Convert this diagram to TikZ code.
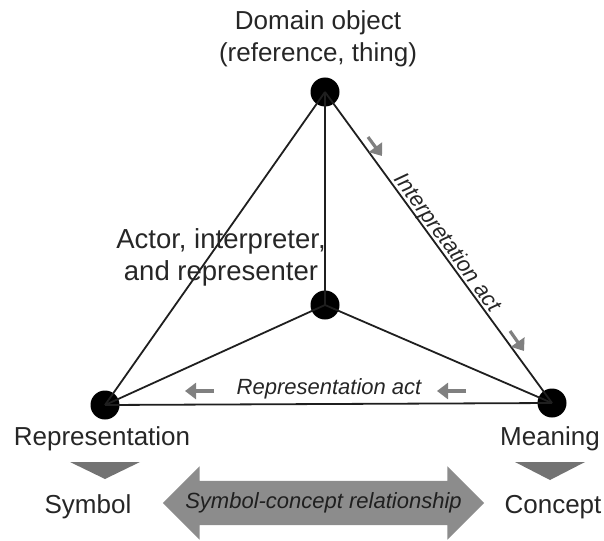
\documentclass[tikz,border=0pt]{standalone}
\usepackage{fontspec}
\setmainfont{Liberation Sans}
\usetikzlibrary{shapes.arrows,arrows.meta}
\begin{document}
\begin{tikzpicture}[x=1pt,y=-1pt,
  vertex/.style={circle,fill=black,minimum size=29pt,inner sep=0pt},
  edge/.style={line width=1.8pt,draw=black!88},
  lbl/.style={font=\fontsize{26}{32}\selectfont,text=black!85,inner sep=0pt,anchor=base},
  biglbl/.style={lbl,font=\fontsize{27.5}{32}\selectfont},
  actlbl/.style={font=\fontsize{22}{26}\selectfont\itshape,text=black!85,inner sep=0pt},
  cue/.style={draw=black!50,line width=3.2pt,-{Triangle[length=11pt,width=16pt]}},
  wedge/.style={fill=black!55},
  relarrow/.style={double arrow,fill=black!45,draw=none,
    double arrow head extend=14.5pt,
    minimum height=317pt,inner xsep=0pt,inner ysep=12pt,
    text height=15pt,text depth=5pt,
    font=\fontsize{22}{26}\selectfont\itshape,text=black!88}
]
\useasboundingbox (0,0) rectangle (604,540);

% the four vertices of the semiotic tetrahedron
\node[vertex] (top)   at (325,92)  {};
\node[vertex] (mid)   at (325,305) {};
\node[vertex] (left)  at (105,405) {};
\node[vertex] (right) at (552,403) {};

% edges
\draw[edge] (top.center) -- (left.center);
\draw[edge] (top.center) -- (right.center);
\draw[edge] (top.center) -- (mid.center);
\draw[edge] (mid.center) -- (left.center);
\draw[edge] (mid.center) -- (right.center);
\draw[edge] (left.center) -- (right.center);

% vertex labels
\node[lbl] (dom1) at (318,30)  {Domain object};
\node[lbl] (dom2) at (318,62)  {(reference, thing)};
\node[biglbl] (act1) at (221,248) {Actor, interpreter,};
\node[biglbl] (act2) at (221,280) {and representer};
\node[lbl] (rep)  at (102,445) {Representation};
\node[lbl] (mng)  at (550,445) {Meaning};
\node[lbl] (sym)  at (88,513)  {Symbol};
\node[lbl] (con)  at (553,513) {Concept};

% interpretation act, along the right edge
\node[actlbl,rotate=-53.9] (interp) at (447,243) {Interpretation act};
\coordinate (i1a) at (368,137); \coordinate (i1b) at (382,156);
\coordinate (i2a) at (510,331); \coordinate (i2b) at (524,351);
\draw[cue] (i1a) -- (i1b);
\draw[cue] (i2a) -- (i2b);

% representation act, along the base
\node[actlbl] (repact) at (329,389) {Representation act};
\coordinate (r1a) at (214,391); \coordinate (r1b) at (185,391);
\coordinate (r2a) at (466,391); \coordinate (r2b) at (437,391);
\draw[cue] (r1a) -- (r1b);
\draw[cue] (r2a) -- (r2b);

% refinement wedges below the base vertices
\fill[wedge] (70,462) -- (140,462) -- (105,479) -- cycle;
\fill[wedge] (515,462) -- (585,462) -- (550,480) -- cycle;

% symbol-concept relationship
\node[relarrow] (rel) at (323.5,503) {Symbol-concept relationship};
\end{tikzpicture}
\end{document}
